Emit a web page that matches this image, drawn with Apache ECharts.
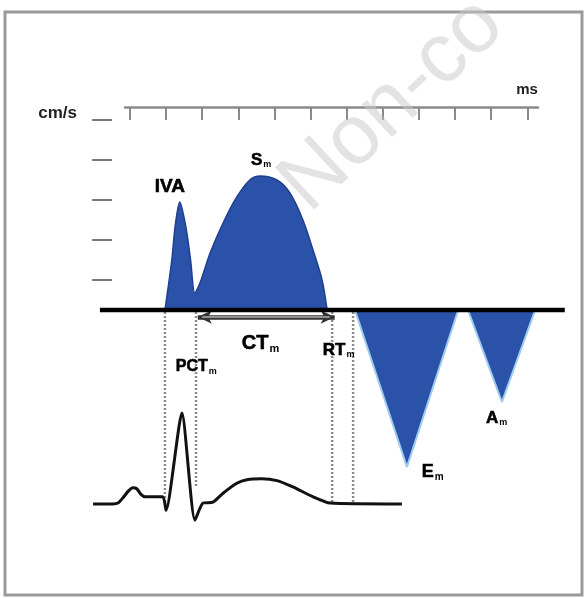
<!DOCTYPE html>
<html><head><meta charset="utf-8">
<script src="https://cdn.jsdelivr.net/npm/echarts@6/dist/echarts.min.js"></script>
<style>html,body{margin:0;padding:0;background:#fff}#c{width:584px;height:598px}</style>
</head><body><div id="c"></div>
<script>
// ---- data ----
const msTicks = [0, 100, 200, 300, 400, 500, 600, 700, 800, 900, 1000, 1100];
const velTicks = [7.5, 17.5, 27.5, 37.5, 47.5];
// systolic wave (IVA + Sm): time (ms), velocity (cm/s)
const sysTime = [97, 116, 125, 138, 155, 168, 180, 194, 222, 258, 296, 332, 360, 407, 443, 479, 507, 532, 546];
const sysVel  = [0, 12.5, 20.75, 27, 20.75, 12.5, 4.25, 6.75, 14.25, 21.75, 28.25, 32.5, 33.5, 32.5, 29.25, 22.5, 15, 7.5, 0];
// early diastolic (Em) and late diastolic (Am) waves
const eTime = [623, 767, 909];
const eVel  = [0, -39.25, 0];
const aTime = [936, 1030, 1122];
const aVel  = [0, -23, 0];
// zero-velocity baseline
const baseTime = [-83, 1204];
// ECG trace: time (ms), mV
const ecgTime = [-102, -47, -33, -19, -5, 8, 19, 30, 42, 91, 100, 144, 180, 202, 230, 258, 296, 324, 365, 407, 451, 507, 554, 753];
const ecgVolt = [0, 0, 0.01, 0.07, 0.14, 0.18, 0.17, 0.11, 0.08, 0.08, -0.07, 1.01, -0.18, 0.01, 0.02, 0.12, 0.23, 0.27, 0.28, 0.26, 0.19, 0.08, 0.01, 0];
// timing markers (dotted verticals)
const markTime = [97, 183, 560, 618];
const markTop = [-0.5, -0.5, -0.5, -0.5];
const markBottom = [-48.75, -44.5, -48.25, -48.25];
// CTm arrow
const ctTime = [188, 567];
const ctVel = -1.75;
// annotation labels
const labelText = ['IVA', 'S', 'CT', 'RT', 'PCT', 'E', 'A'];
const labelSub  = ['', 'm', 'm', 'm', 'm', 'm', 'm'];
const labelTime = [69, 335, 310, 534, 127, 808, 986];
const labelVel  = [30.75, 37.5, -8.25, -10, -14.25, -40.5, -27];
const labelSize = [19, 17, 20, 17, 16, 18, 17];

// ---- chart ----
const zip = (xs, ys) => xs.map((x, i) => [x, ys[i]]);
const BLUE = '#2a52a8';
const FONT = '"Liberation Sans", Arial, sans-serif';

const dotSeries = markTime.map((t, i) => ({
  type: 'line', xAxisIndex: 0, yAxisIndex: 0, symbol: 'none', silent: true, z: 3,
  data: [[t, markTop[i]], [t, markBottom[i]]],
  lineStyle: { color: '#8a8a8a', width: 2.5, type: [2, 2] }
}));

const labelData = labelText.map((t, i) => {
  const f = labelSize[i];
  const fmt = labelSub[i] ? '{a|' + t + '}{s|' + labelSub[i] + '}' : '{a|' + t + '}';
  return {
    value: [labelTime[i], labelVel[i]],
    label: {
      formatter: fmt,
      color: '#000',
      rich: {
        a: { fontSize: f, fontWeight: 'bold', fontFamily: FONT, color: '#000', textBorderColor: '#000', textBorderWidth: 0.6 },
        s: { fontSize: Math.round(f * 0.55), fontWeight: 'bold', fontFamily: FONT, color: '#000', padding: [Math.round(f * 0.55), 0, 0, 1] }
      }
    }
  };
});

const option = {
  backgroundColor: '#fff',
  animation: false,
  grid: [
    { left: 88, right: 12, top: 100, bottom: 58 },
    { left: 125, right: 46, top: 106, height: 1 }
  ],
  xAxis: [
    { gridIndex: 0, type: 'value', min: -116, max: 1224, show: false },
    {
      gridIndex: 1, type: 'value', min: -13.8, max: 1129.6,
      axisLine: { show: true, onZero: false, lineStyle: { color: '#8a8a8a', width: 2.5 } },
      axisTick: { show: true, customValues: msTicks, length: 13, lineStyle: { color: '#8a8a8a', width: 2 } },
      axisLabel: { show: false }, splitLine: { show: false },
      name: 'ms', nameLocation: 'end', nameGap: -11,
      nameTextStyle: { align: 'center', verticalAlign: 'bottom', padding: [0, 0, 10, 0], fontSize: 15, fontWeight: 'bold', fontFamily: FONT, color: '#222' }
    }
  ],
  yAxis: [
    {
      gridIndex: 0, type: 'value', min: -57.5, max: 52.5, offset: -24,
      axisLine: { show: false, onZero: false },
      axisTick: { show: true, customValues: velTicks, length: 20, lineStyle: { color: '#7a7a7a', width: 2 } },
      axisLabel: { show: false }, splitLine: { show: false },
      name: 'cm/s', nameLocation: 'end', nameGap: -13,
      nameTextStyle: { align: 'right', verticalAlign: 'middle', padding: [0, 35, 0, 0], fontSize: 17, fontWeight: 'bold', fontFamily: FONT, color: '#222' }
    },
    { gridIndex: 0, type: 'value', min: -0.4, max: 4.489, show: false },
    { gridIndex: 1, type: 'value', min: 0, max: 1, show: false }
  ],
  series: [
    {
      type: 'line', xAxisIndex: 0, yAxisIndex: 0, symbol: 'none', smooth: 0.3, z: 2,
      data: zip(sysTime, sysVel),
      lineStyle: { color: '#1f3f90', width: 1.5 },
      areaStyle: { color: BLUE, opacity: 1 }
    },
    {
      type: 'line', xAxisIndex: 0, yAxisIndex: 0, symbol: 'none', z: 2,
      data: zip(eTime, eVel),
      lineStyle: { color: '#9ccbef', width: 2 },
      areaStyle: { color: BLUE, opacity: 1 },
      markLine: {
        silent: true, symbol: ['none', 'none'], label: { show: false }, z: 6,
        lineStyle: { color: '#b0b0b0', width: 1.5, type: 'solid' },
        data: [[{ coord: [ctTime[0] + 12, ctVel] }, { coord: [ctTime[1] - 14, ctVel] }]]
      }
    },
    {
      type: 'line', xAxisIndex: 0, yAxisIndex: 0, symbol: 'none', z: 2,
      data: zip(aTime, aVel),
      lineStyle: { color: '#9ccbef', width: 2 },
      areaStyle: { color: BLUE, opacity: 1 }
    },
    {
      type: 'line', xAxisIndex: 0, yAxisIndex: 0, symbol: 'none', z: 5, silent: true,
      data: baseTime.map(t => [t, 0]),
      lineStyle: { color: '#000', width: 4.5 },
      markLine: {
        silent: true, symbol: ['arrow', 'arrow'], symbolSize: [10, 14], label: { show: false },
        lineStyle: { color: '#333', width: 4.5, type: 'solid' },
        data: [[{ coord: [ctTime[0], ctVel] }, { coord: [ctTime[1], ctVel] }]]
      }
    },
    ...dotSeries,
    {
      type: 'line', xAxisIndex: 0, yAxisIndex: 1, symbol: 'none', smooth: 0.2, z: 4,
      data: zip(ecgTime, ecgVolt),
      lineStyle: { color: '#111', width: 3 }
    },
    {
      type: 'scatter', xAxisIndex: 0, yAxisIndex: 0, symbolSize: 0, z: 10, silent: true,
      itemStyle: { opacity: 1 },
      label: { show: true, position: 'right', distance: 0, color: '#000', opacity: 1 },
      data: labelData
    }
  ],
  graphic: [
    { type: 'rect', z: 50, silent: true, shape: { x: 5, y: 12, width: 577, height: 583 }, style: { fill: 'none', stroke: '#9a9a9a', lineWidth: 3 } },
    { type: 'text', z: 60, silent: true, x: 322, y: 228, rotation: 0.75,
      style: { text: 'Non-co', font: '84px "Liberation Sans", Arial, sans-serif', fill: 'rgba(200,200,200,0.5)', align: 'left', verticalAlign: 'bottom' } }
  ]
};

const chart = echarts.init(document.getElementById('c'), null, { renderer: 'canvas' });
chart.setOption(option);
</script>
</body></html>
